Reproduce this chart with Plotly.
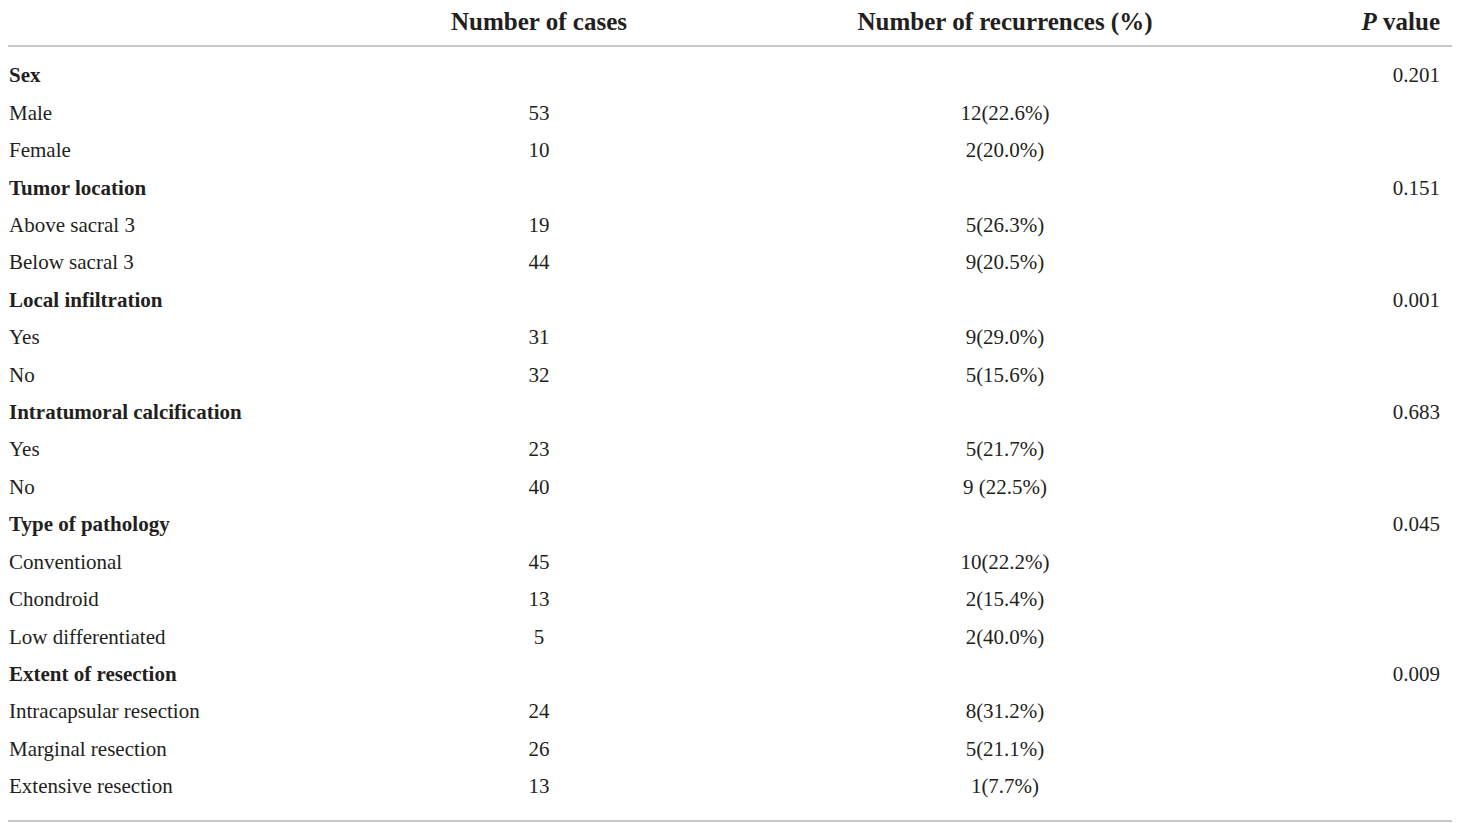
import plotly.graph_objects as go

headers = ["Number of cases", "Number of recurrences (%)", "<i>P</i> value"]

labels = ["Sex", "Male", "Female",
          "Tumor location", "Above sacral 3", "Below sacral 3",
          "Local infiltration", "Yes", "No",
          "Intratumoral calcification", "Yes", "No",
          "Type of pathology", "Conventional", "Chondroid", "Low differentiated",
          "Extent of resection", "Intracapsular resection", "Marginal resection", "Extensive resection"]
is_group = [True, False, False,
            True, False, False,
            True, False, False,
            True, False, False,
            True, False, False, False,
            True, False, False, False]
cases = ["", "53", "10",
         "", "19", "44",
         "", "31", "32",
         "", "23", "40",
         "", "45", "13", "5",
         "", "24", "26", "13"]
recurrences = ["", "12(22.6%)", "2(20.0%)",
               "", "5(26.3%)", "9(20.5%)",
               "", "9(29.0%)", "5(15.6%)",
               "", "5(21.7%)", "9 (22.5%)",
               "", "10(22.2%)", "2(15.4%)", "2(40.0%)",
               "", "8(31.2%)", "5(21.1%)", "1(7.7%)"]
p_values = ["0.201", "", "",
            "0.151", "", "",
            "0.001", "", "",
            "0.683", "", "",
            "0.045", "", "", "",
            "0.009", "", "", ""]

rows = list(range(len(labels)))
ink = "#231f20"
body_font = dict(family="Liberation Serif", size=21, color=ink)

# the page puts the plot 8px in from the window corner, so the axes are
# laid out in window pixels
step = 37.42
first = 77
def row_of(px):
    return (px - first) / step

fig = go.Figure()

fig.add_trace(go.Scatter(
    x=[9] * len(rows), y=rows, mode="text",
    text=[f"<b>{t}</b>" if g else t for t, g in zip(labels, is_group)],
    textposition="middle right", textfont=body_font, hoverinfo="skip",
    cliponaxis=False))
fig.add_trace(go.Scatter(
    x=[539] * len(rows), y=rows, mode="text", text=cases,
    textposition="middle center", textfont=body_font, hoverinfo="skip",
    cliponaxis=False))
fig.add_trace(go.Scatter(
    x=[1005] * len(rows), y=rows, mode="text", text=recurrences,
    textposition="middle center", textfont=body_font, hoverinfo="skip",
    cliponaxis=False))
fig.add_trace(go.Scatter(
    x=[1440] * len(rows), y=rows, mode="text", text=p_values,
    textposition="middle left", textfont=body_font, hoverinfo="skip",
    cliponaxis=False))

# header row
fig.add_trace(go.Scatter(
    x=[539, 1005, 1440], y=[row_of(24)] * 3, mode="text",
    text=[f"<b>{h}</b>" for h in headers],
    textposition=["middle center", "middle center", "middle left"],
    textfont=dict(family="Liberation Serif", size=25, color=ink), hoverinfo="skip",
    cliponaxis=False))

for py in [46, 821]:
    fig.add_shape(type="line", xref="x", yref="y", x0=0, x1=1468,
                  y0=row_of(py), y1=row_of(py),
                  line=dict(color="#c8c8c8", width=2))

fig.update_xaxes(range=[8, 1468], visible=False, fixedrange=True)
fig.update_yaxes(range=[row_of(831), row_of(8)], visible=False, fixedrange=True)
fig.update_layout(width=1460, height=823, margin=dict(l=0, r=0, t=0, b=0),
                  showlegend=False, plot_bgcolor="white", paper_bgcolor="white")

fig.write_html("out.html")
